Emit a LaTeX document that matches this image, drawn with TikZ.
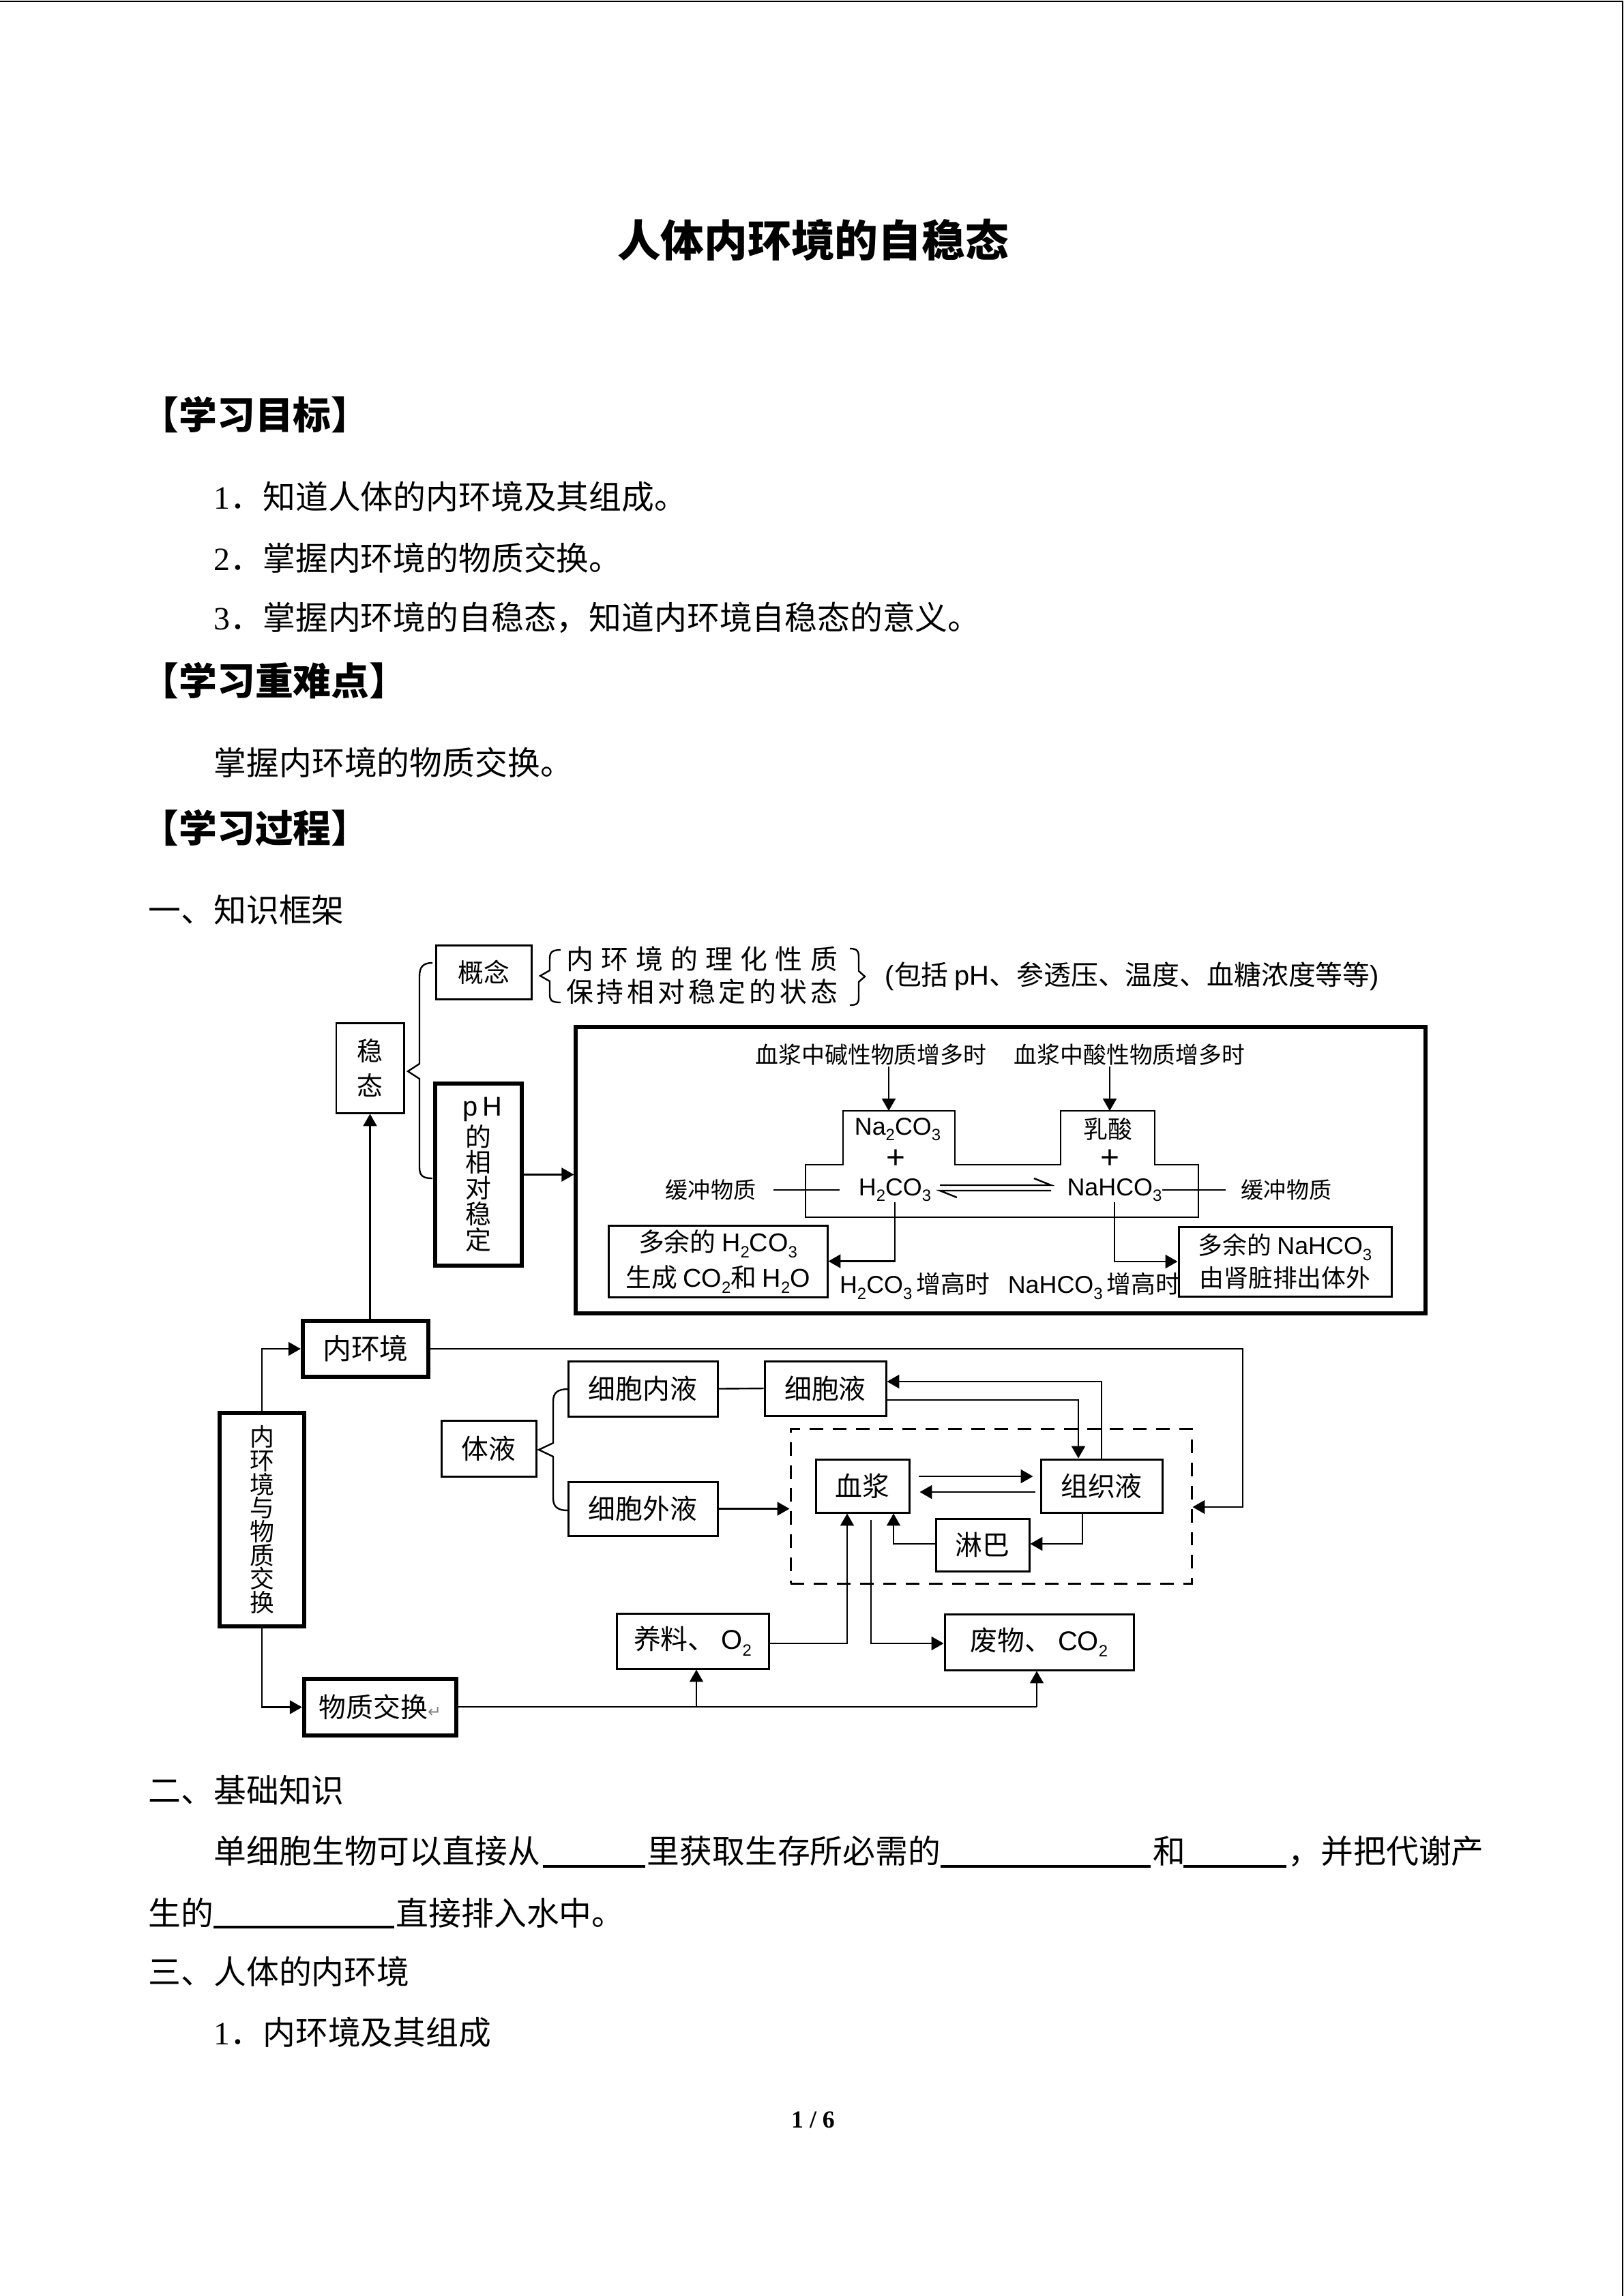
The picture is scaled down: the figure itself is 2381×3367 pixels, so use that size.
\documentclass[tikz,border=0pt]{standalone}
\usepackage{fontspec}
\setmainfont{Noto Sans CJK SC}
\newfontfamily\tnr{Liberation Serif}
\newfontfamily\ars{Liberation Sans}
\newfontfamily\djv{DejaVu Sans}
\usetikzlibrary{arrows.meta,calc}
\newdimen\px \px=0.0882mm
\newcommand\fsz[1]{\fontsize{#1}{#1}\selectfont}
\newcommand\tightls{\lineskiplimit=-5pt\relax}
\newcommand\chem[1]{{\ars #1}}
\newcommand\sbs[1]{\raisebox{-0.45ex}{\ars\fontsize{6}{6}\selectfont #1}}
\newcommand\bx[7][]{\node[box,minimum width={(#4-#2)*\px},minimum height={(#5-#3)*\px},#1] (#6) at ({(#2+#4)/2},{(#3+#5)/2}) {#7};}
\begin{document}
\begin{tikzpicture}[x=0.0882mm,y=-0.0882mm,
  box/.style={draw,line width=0.75pt,inner sep=0pt,font=\fsz{10}},
  tbox/.style={box,line width=1.6pt},
  ln/.style={line width=0.6pt},
  arr/.style={ln,-{Triangle[length=4.5pt,width=5pt]}},
  body/.style={inner sep=0pt,anchor=base west,font=\fsz{12}},
  head/.style={inner sep=0pt,anchor=base west,font=\fsz{14}\bfseries},
  lab/.style={inner sep=0pt,font=\fsz{9}},
  plus/.style={inner sep=0pt,font=\ars\fsz{12},text height=0.52em,text depth=-0.08em},
  blank/.style={line width=0.8pt}]
\fill[white] (0,0) rectangle (2381,3367);
\useasboundingbox (0,0) rectangle (2381,3367);
\draw[line width=0.6pt] (0,2) -- (2379,2) -- (2379,3367);

% ---------- page text ----------
\node[inner sep=0pt,font=\fsz{16}\bfseries] (title) at (1192,352) {人体内环境的自稳态};
\node[head] (h1) at (206,629) {【学习目标】};
\node[body] (t1) at (313,746) {{\tnr 1}．知道人体的内环境及其组成。};
\node[body] (t2) at (313,836) {{\tnr 2}．掌握内环境的物质交换。};
\node[body] (t3) at (313,923) {{\tnr 3}．掌握内环境的自稳态，知道内环境自稳态的意义。};
\node[head] (h2) at (206,1019) {【学习重难点】};
\node[body] (t4) at (313,1136) {掌握内环境的物质交换。};
\node[head] (h3) at (206,1235) {【学习过程】};
\node[body] (s1) at (217,1352) {一、知识框架};
\node[body] (s2) at (217,2643) {二、基础知识};
\node[body] (f1) at (313,2732) {单细胞生物可以直接从};
\draw[blank] (796,2737) -- (946,2737);
\node[body] (f2) at (948,2732) {里获取生存所必需的};
\draw[blank] (1379,2737) -- (1687,2737);
\node[body] (f3) at (1690,2732) {和};
\draw[blank] (1735,2737) -- (1886,2737);
\node[body] (f4) at (1888,2732) {，并把代谢产};
\node[body] (f5) at (217,2823) {生的};
\draw[blank] (313,2826) -- (578,2826);
\node[body] (f6) at (580,2823) {直接排入水中。};
\node[body] (s3) at (217,2909) {三、人体的内环境};
\node[body] (t5) at (313,2998) {{\tnr 1}．内环境及其组成};
\node[inner sep=0pt,font=\tnr\bfseries\fsz{9}] (pg) at (1192,3109) {1 / 6};

% ---------- homeostasis part ----------
\bx[font=\fsz{9.5}]{639}{1386}{779}{1465}{gn}{概念};
\draw[ln] (822,1393) .. controls (807,1393) and (806,1398) .. (806,1408) -- (806,1423) -- (792,1431) -- (806,1439) -- (806,1457) .. controls (806,1466) and (807,1470) .. (822,1470);
\node[inner sep=0pt,font=\fsz{10}] (gn1) at (1029,1406) {\hbox to 398\px{内\hfil 环\hfil 境\hfil 的\hfil 理\hfil 化\hfil 性\hfil 质}};
\node[inner sep=0pt,font=\fsz{10}] (gn2) at (1029,1454) {\hbox to 398\px{保\hfil 持\hfil 相\hfil 对\hfil 稳\hfil 定\hfil 的\hfil 状\hfil 态}};
\draw[ln] (1246,1391) .. controls (1258,1391) and (1259,1396) .. (1259,1405) -- (1259,1424) -- (1268,1432) -- (1259,1440) -- (1259,1462) .. controls (1259,1470) and (1258,1474) .. (1246,1474);
\node[inner sep=0pt,anchor=west,font=\fsz{10}] (bk) at (1297,1432) {{\ars (}包括 {\ars pH}、参透压、温度、血糖浓度等等{\ars )}};

\bx[align=center,font=\fontsize{9.5}{12.75}\selectfont]{493}{1500}{592}{1632}{wt}{稳\\态};
\draw[ln] (634,1412) .. controls (620,1412) and (615,1418) .. (615,1432) -- (615,1560) -- (598,1571) -- (615,1582) -- (615,1712) .. controls (615,1724) and (620,1728) .. (634,1728);
\bx[tbox,align=center,font=\fontsize{9.5}{9.5}\selectfont]{638}{1589}{765}{1856}{ph}{{\ars\fsz{10} p\,H}\\的\\相\\对\\稳\\定};

\bx[line width=1.3pt]{844}{1506}{2090}{1926}{big}{};
\draw[arr] (ph.east) -- (big.west |- ph.east);

\node[lab,font=\fsz{8.5}] (jian) at (1277,1547) {血浆中碱性物质增多时};
\node[lab,font=\fsz{8.5}] (suan) at (1656,1547) {血浆中酸性物质增多时};
\coordinate (tabA) at (1303,1629);
\coordinate (tabB) at (1627,1629);
\draw[arr] (jian.south -| tabA) -- (tabA);
\draw[arr] (suan.south -| tabB) -- (tabB);
\draw[ln] (1181,1708) -- (1236,1708) -- (1236,1629) -- (1400,1629) -- (1400,1708) -- (1555,1708) -- (1555,1629) -- (1693,1629) -- (1693,1708) -- (1757,1708) -- (1757,1785) -- (1181,1785) -- cycle;
\node[lab] (na2) at (1316,1656) {\chem{Na\sbs{2}CO\sbs{3}}};
\node[plus] (p1) at (1313,1703) {+};
\node[lab] (rs) at (1624,1656) {乳酸};
\node[plus] (p2) at (1627,1703) {+};
\node[lab] (h2co3) at (1312,1745) {\chem{H\sbs{2}CO\sbs{3}}};
\node[lab] (nahco3) at (1634,1745) {\chem{NaHCO\sbs{3}}};
\node[lab,font=\fsz{8.3}] (hc1) at (1042,1745) {缓冲物质};
\node[lab,font=\fsz{8.3}] (hc2) at (1886,1745) {缓冲物质};
\coordinate (bl1) at (1134,1745);
\coordinate (bl2) at (1231,1745);
\coordinate (br2) at (1797,1745);
\draw[ln] (bl1) -- (bl2);
\draw[ln] (nahco3.east) -- (br2);
\draw[ln] (1378,1738) -- (1541,1738) -- (1516,1728);
\draw[ln] (1541,1746) -- (1378,1746) -- (1403,1756);
\bx[align=center,font=\fontsize{9.5}{13}\selectfont]{892}{1797}{1213}{1902}{blb}{多余的 \chem{H\sbs{2}CO\sbs{3}}\\生成 \chem{CO\sbs{2}}和 \chem{H\sbs{2}O}};
\bx[align=center,font=\fontsize{9}{12}\selectfont]{1728}{1799}{2040}{1901}{brb}{多余的 \chem{NaHCO\sbs{3}}\\由肾脏排出体外};
\draw[arr] (h2co3.south) |- (blb.east);
\draw[arr] (nahco3.south) |- (brb.west);
\node[lab] (hz1) at (1341,1886) {\chem{H\sbs{2}CO\sbs{3}}\,增高时};
\node[lab] (hz2) at (1604,1886) {\chem{NaHCO\sbs{3}}\,增高时};

% ---------- exchange part ----------
\bx[tbox,font=\fsz{10.5}]{444}{1937}{628}{2019}{nhj}{内环境};
\bx[tbox,align=center,font={\fontsize{9}{8.7}\selectfont\tightls}]{322}{2072}{446}{2385}{nhjwz}{内\\环\\境\\与\\物\\质\\交\\换};
\bx[tbox]{446}{2462}{669}{2545}{wzjh}{物质交换{\color{gray}\djv\fsz{6}↵}};
\draw[arr] (wt.south |- nhj.north) -- (wt.south);
\draw[arr] (nhjwz.north) |- (nhj.west);
\draw[arr] (nhjwz.south) |- (wzjh.west);

\bx{647}{2083}{786}{2165}{ty}{体液};
\draw[ln] (833,2037) .. controls (818,2037) and (811,2042) .. (811,2055) -- (811,2116) -- (790,2126) -- (811,2136) -- (811,2197) .. controls (811,2210) and (818,2215) .. (833,2215);
\bx{833}{1996}{1052}{2077}{xbnx}{细胞内液};
\bx{833}{2173}{1052}{2252}{xbwy}{细胞外液};
\bx{1121}{1996}{1299}{2076}{xby}{细胞液};
\bx[dash pattern=on 5pt off 3.5pt]{1159}{2095}{1747}{2322}{dash}{};
\bx{1196}{2140}{1333}{2218}{xj}{血浆};
\bx{1526}{2140}{1704}{2218}{zzy}{组织液};
\bx{1372}{2227}{1509}{2304}{lb}{淋巴};
\bx{904}{2366}{1127}{2447}{yl}{养料、 \chem{O\sbs{2}}};
\bx{1385}{2367}{1662}{2449}{fw}{废物、 \chem{CO\sbs{2}}};

\draw[ln] (xbnx.east) -- (xby.west);
\draw[arr] (xbwy.east) -- (dash.west |- xbwy.east);
\coordinate (cR) at (1822,2210);
\draw[arr] (nhj.east) -| (cR) -- (dash.east |- cR);
\draw[arr] ($(xj.east)+(12,-14)$) -- ($(zzy.west)+(-10,-14)$);
\draw[arr] ($(zzy.west)+(-7,9)$) -- ($(xj.east)+(14,9)$);
\coordinate (lb1) at (1587,2264);
\draw[arr] (zzy.south -| lb1) -- (lb1) -- (lb.east |- lb1);
\coordinate (lb2) at (1310,2264);
\draw[arr] (lb.west |- lb2) -- (lb2) -- (xj.south -| lb2);
\coordinate (c1) at (1615,2026);
\draw[arr] (zzy.north -| c1) -- (c1) -- (xby.east |- c1);
\coordinate (c2) at (1581,2053);
\draw[arr] (xby.east |- c2) -- (c2) -- (zzy.north -| c2);
\coordinate (c3) at (1242,2410);
\draw[arr] (yl.east |- c3) -- (c3) -- (xj.south -| c3);
\coordinate (c4) at (1277,2410);
\draw[arr] ($(xj.south -| c4)+(0,9)$) -- (c4) -- (fw.west |- c4);
\coordinate (c5) at (1021,2503);
\coordinate (c6) at (1520,2503);
\draw[ln] (wzjh.east |- c5) -- (c6);
\draw[arr] (c5) -- (yl.south -| c5);
\draw[arr] (c6) -- (fw.south -| c6);
\end{tikzpicture}
\end{document}
